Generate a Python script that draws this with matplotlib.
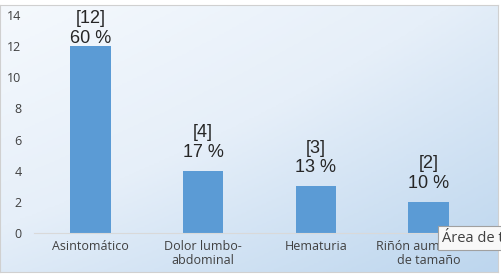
import numpy as np
import matplotlib.pyplot as plt
from matplotlib.colors import LinearSegmentedColormap

categorias = ['Asintomático', 'Dolor lumbo-\nabdominal', 'Hematuria', 'Riñón aumentado\nde tamaño']
casos = [12, 4, 3, 2]
porcentajes = [60, 17, 13, 10]
yticks = [0, 2, 4, 6, 8, 10, 12, 14]

fig = plt.figure(figsize=(5.01, 2.78), dpi=100)
fig.patch.set_facecolor('white')

# fondo degradado del área del gráfico
bg = fig.add_axes([0, 1 - 272 / 278, 498 / 501, 267 / 278], zorder=0)
xx, yy = np.meshgrid(np.linspace(0, 1, 200), np.linspace(0, 1, 120))
t = np.clip(0.55 * xx + 0.6 * yy - 0.15 * xx * yy, 0, 1)
cmap = LinearSegmentedColormap.from_list('fondo', ['#f5f9fd', '#e6eff9', '#bdd6ee'])
bg.imshow(t, cmap=cmap, aspect='auto', origin='upper', extent=[0, 1, 0, 1])
bg.set_xticks([]); bg.set_yticks([])
for s in bg.spines.values():
    s.set_color('#d0d0d0')
    s.set_linewidth(0.8)

ax = fig.add_axes([34 / 501, 1 - 233 / 278, 451 / 501, 218 / 278], zorder=1)
ax.patch.set_alpha(0)
x = np.arange(len(categorias))
ax.bar(x, casos, width=0.36, color='#5b9bd5')
ax.set_xlim(-0.5, len(categorias) - 0.5)
ax.set_ylim(0, 14)
ax.set_yticks(yticks)
ax.set_xticks(x)
ax.set_xticklabels(categorias, fontsize=9, family='Open Sans', color='#404040', linespacing=1.15)
ax.tick_params(axis='y', length=0, pad=9, labelsize=9, labelcolor='#404040')
ax.tick_params(axis='x', length=0, pad=5)
for lbl in ax.get_yticklabels():
    lbl.set_family('Open Sans')
for k in ['top', 'right', 'left']:
    ax.spines[k].set_visible(False)
ax.spines['bottom'].set_color('#d9d9d9')
ax.spines['bottom'].set_linewidth(0.8)
ax.spines['bottom'].set_bounds(-0.5, 3.65)
ax.spines['bottom'].set_clip_on(False)

# etiquetas de datos (Excel las baja si no caben arriba)
for xi, c, p in zip(x, casos, porcentajes):
    ax.text(xi, min(c + 0.65, 11.95), '[%d]\n%d %%' % (c, p),
            ha='center', va='bottom', fontsize=13, family='Liberation Sans',
            color='#262626', linespacing=1.2)

# tooltip de Excel
fig.text(442 / 501, 1 - 238 / 278, 'Área de t', fontsize=10.5, family='Open Sans',
         color='#404040', va='center', ha='left', zorder=5,
         bbox=dict(boxstyle='square,pad=0.3', fc='#f8f8f8', ec='#a0a0a0', lw=0.8))

fig.savefig('out.png', dpi=100)
